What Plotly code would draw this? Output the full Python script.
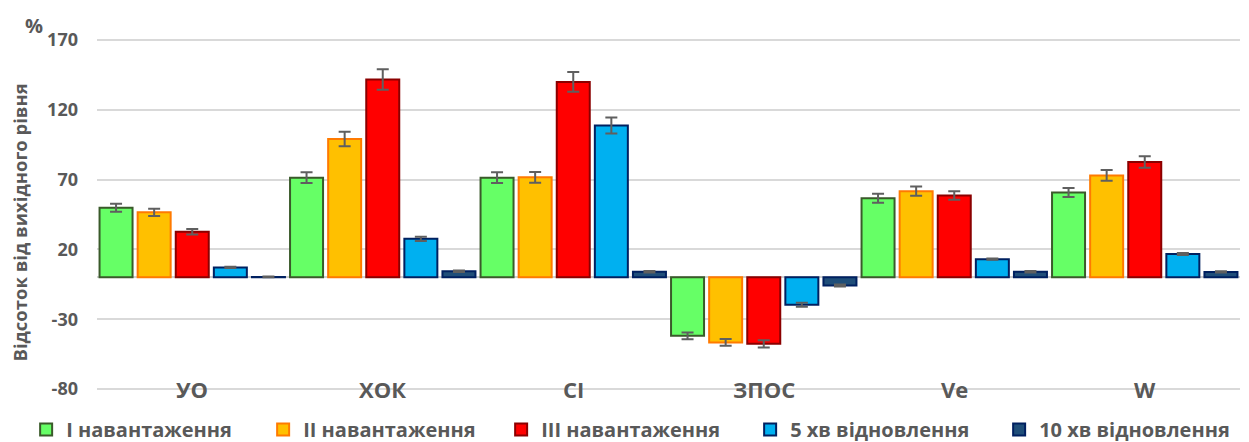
import plotly.graph_objects as go

categories = ["УО", "ХОК", "СІ", "ЗПОС", "Ve", "W"]
series_names = ["І навантаження", "ІІ навантаження", "ІІІ навантаження", "5 хв відновлення", "10 хв відновлення"]

load1 = [49.8, 71.4, 71.4, -41.9, 56.7, 60.7]
load2 = [46.6, 99.0, 71.6, -46.6, 61.7, 73.0]
load3 = [32.6, 141.7, 140.0, -47.6, 58.6, 82.6]
rec5 = [7.1, 27.6, 108.8, -19.7, 13.0, 16.7]
rec10 = [0.3, 4.3, 4.0, -5.9, 4.0, 3.9]

err1 = [2.9, 3.8, 3.8, 2.4, 3.2, 3.2]
err2 = [2.6, 5.2, 3.8, 2.5, 3.3, 3.8]
err3 = [2.0, 7.3, 7.1, 2.6, 3.1, 4.2]
err5 = [0.5, 1.5, 5.7, 1.4, 0.5, 0.7]
err10 = [0.3, 0.5, 0.5, 0.7, 0.5, 0.5]

y_ticks = [-80, -30, 20, 70, 120, 170]

fills = ["#66FF66", "#FFC000", "#FF0000", "#00B0F0", "#1F4E79"]
borders = ["#3A5A2A", "#FF7A00", "#8B0000", "#002060", "#002060"]
legend_widths = [192, 193, 204, 204, 210]

values = [load1, load2, load3, rec5, rec10]
errors = [err1, err2, err3, err5, err10]

fig = go.Figure()
for name, v, e, fc, bc, lw in zip(series_names, values, errors, fills, borders, legend_widths):
    fig.add_trace(go.Bar(
        name=name, x=categories, y=v,
        marker=dict(color=fc, line=dict(color=bc, width=2)),
        error_y=dict(type="data", array=e, visible=True, color="#5F5F5F", thickness=2, width=6),
        legendwidth=lw,
    ))

font_family = "'Open Sans', sans-serif"
grey = "#595959"

annotations = []
for c in categories:
    annotations.append(dict(x=c, y=-80, xref="x", yref="y", text=c, showarrow=False,
                            yanchor="middle", xanchor="center",
                            font=dict(family=font_family, size=22, color=grey, weight="bold")))
annotations.append(dict(x=-0.055, y=1.034, xref="paper", yref="paper", text="%", showarrow=False,
                        xanchor="center", yanchor="middle",
                        font=dict(family=font_family, size=20, color=grey, weight="bold")))
annotations.append(dict(x=-0.068, y=0.478, xref="paper", yref="paper", text="Відсоток від вихідного рівня",
                        showarrow=False, textangle=-90, xanchor="center", yanchor="middle",
                        font=dict(family=font_family, size=18.5, color=grey, weight="bold")))

fig.update_layout(
    width=1241, height=434,
    margin=dict(l=89, r=9, t=30, b=51, autoexpand=False),
    paper_bgcolor="white", plot_bgcolor="white",
    barmode="group", bargap=0, bargroupgap=0.134,
    font=dict(family=font_family, color=grey),
    showlegend=True,
    legend=dict(orientation="h", x=-0.062, xanchor="left", y=-0.109, yanchor="middle",
                font=dict(family=font_family, size=20, color=grey, weight="bold"),
                bgcolor="rgba(0,0,0,0)", traceorder="normal"),
    annotations=annotations,
)
fig.update_xaxes(showticklabels=False, showgrid=False, zeroline=False, showline=False, ticks="")
fig.update_yaxes(range=[-81.43, 171.43], tickvals=y_ticks, ticktext=[str(t) for t in y_ticks],
                 showgrid=True, gridcolor="#D9D9D9", gridwidth=2,
                 zeroline=True, zerolinecolor="#D0D0D0", zerolinewidth=2,
                 showline=False, ticks="", ticklabelstandoff=18,
                 tickfont=dict(family=font_family, size=18, color=grey, weight="bold"))

fig.write_html("out.html")
